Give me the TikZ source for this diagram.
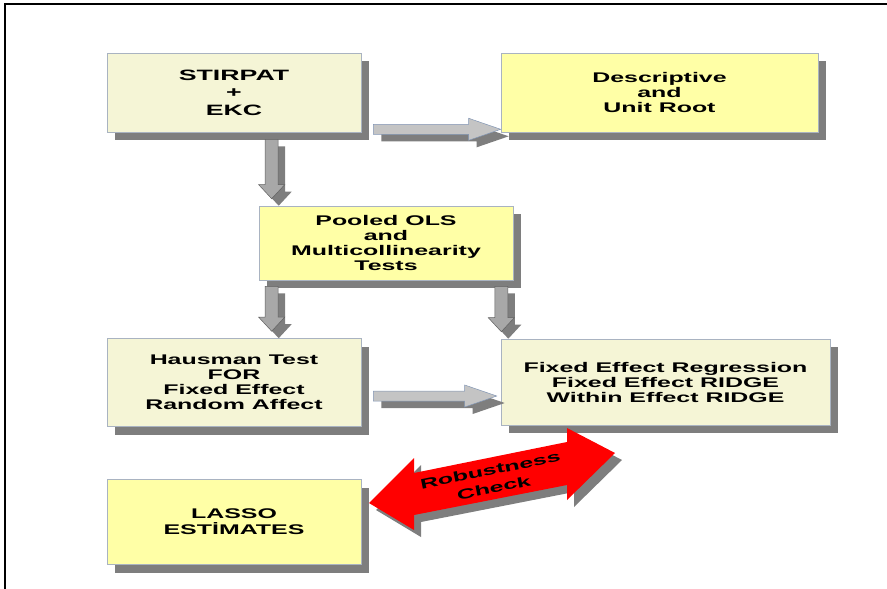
\documentclass[tikz,border=0pt]{standalone}
\usepackage{fontspec}
\newfontfamily\boxfont[FakeStretch=1.78]{Liberation Sans}
\usetikzlibrary{calc}
\definecolor{cream}{HTML}{F5F5D6}
\definecolor{lemon}{HTML}{FFFFA6}
\definecolor{boxline}{HTML}{A9B3C1}
\definecolor{shadowgrey}{HTML}{7E7E7E}
\definecolor{hgrey}{HTML}{C4C4C4}
\definecolor{hline}{HTML}{8296B4}
\definecolor{vgrey}{HTML}{A8A8A8}
\definecolor{vline}{HTML}{606060}

\tikzset{
  box/.style={draw=boxline, line width=0.6pt, fill=#1, align=center, inner sep=0pt,
    font=\boxfont\bfseries\fontsize{14}{15}\selectfont,
    preaction={fill=shadowgrey, transform canvas={xshift=8pt,yshift=-8pt}}},
  harrow/.style={to path={($(\tikztostart)+(0,-5)$) -- ($(\tikztotarget)+(-32,-5)$)
    -- ($(\tikztotarget)+(-32,-11)$) -- (\tikztotarget) -- ($(\tikztotarget)+(-32,11)$)
    -- ($(\tikztotarget)+(-32,5)$) -- ($(\tikztostart)+(0,5)$) -- cycle}},
  varrow/.style={to path={($(\tikztostart)+(-6.5,0)$) -- ($(\tikztotarget)+(-6.5,-14)$)
    -- ($(\tikztotarget)+(-13,-14)$) -- (\tikztotarget) -- ($(\tikztotarget)+(13,-14)$)
    -- ($(\tikztotarget)+(6.5,-14)$) -- ($(\tikztostart)+(6.5,0)$) -- cycle}},
  hgray/.style={fill=hgrey, draw=hline, line width=0.5pt,
    preaction={fill=shadowgrey, transform canvas={xshift=8pt,yshift=-7pt}}},
  vgray/.style={fill=vgrey, draw=vline, line width=0.5pt,
    preaction={fill=shadowgrey, transform canvas={xshift=7pt,yshift=-7pt}}},
}

\begin{document}
\begin{tikzpicture}[x=1pt,y=-1pt]
  \useasboundingbox (0,0) rectangle (887,589);
  \draw[line width=1.2pt] (5,589) -- (5,4) -- (887,4);

  % boxes
  \node (stirpat) at (234,92.5) [box=cream, minimum width=254, minimum height=79,
        font=\boxfont\bfseries\fontsize{15}{17.5}\selectfont] {STIRPAT\\+\\EKC};
  \node (descr) at (659.5,92.5) [box=lemon, minimum width=317, minimum height=79] {Descriptive\\and\\Unit Root};
  \node (pooled) at (386,243) [box=lemon, minimum width=254, minimum height=74] {Pooled OLS\\and\\Multicollinearity\\Tests};
  \node (hausman) at (234,382.5) [box=cream, minimum width=254, minimum height=88] {Hausman Test\\FOR\\Fixed Effect\\Random Affect};
  \node (fixed) at (665.5,382) [box=cream, minimum width=329, minimum height=86] {Fixed Effect Regression\\Fixed Effect RIDGE\\Within Effect RIDGE};
  \node (lasso) at (234,522) [box=lemon, minimum width=254, minimum height=85,
        font=\boxfont\bfseries\fontsize{14}{16}\selectfont] {LASSO\\EST\.{I}MATES};

  % grey arrows
  \coordinate (a1s) at ($(stirpat.south east)+(12,-3)$);
  \coordinate (a1t) at (descr.west |- a1s);
  \draw[hgray] (a1s) to[harrow] (a1t);
  \coordinate (a5s) at ($(hausman.east)+(12,13.5)$);
  \coordinate (a5t) at ($(fixed.west |- a5s)+(-4,0)$);
  \draw[hgray] (a5s) to[harrow] (a5t);
  \coordinate (a2s) at ($(stirpat.south west)+(165,7)$);
  \coordinate (a2t) at ($(a2s |- pooled.north)+(0,-7)$);
  \draw[vgray] (a2s) to[varrow] (a2t);
  \coordinate (a3s) at ($(a2s |- pooled.south)+(0,6)$);
  \coordinate (a3t) at ($(a3s |- hausman.north)+(0,-7)$);
  \draw[vgray] (a3s) to[varrow] (a3t);
  \coordinate (a4s) at ($(pooled.south east)+(-12,6)$);
  \coordinate (a4t) at ($(a4s |- fixed.north)+(0,-7)$);
  \draw[vgray] (a4s) to[varrow] (a4t);

  % robustness double arrow
  \fill[shadowgrey] (376,510) -- (421,465) -- (421,480) -- (574,449) -- (574,435) -- (622,460)
        -- (574,507) -- (574,492) -- (421,522) -- (421,537) -- cycle;
  \fill[red] (369,503) -- (414,458) -- (414,473) -- (567,442) -- (567,428) -- (615,453)
        -- (567,500) -- (567,485) -- (414,515) -- (414,530) -- cycle;
  \node (robust) at (492,479) [rotate=11.5, align=center,
        font=\boxfont\bfseries\fontsize{14}{18}\selectfont] {Robustness\\Check};
\end{tikzpicture}
\end{document}
